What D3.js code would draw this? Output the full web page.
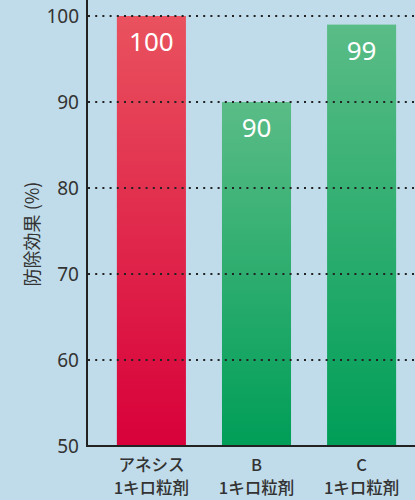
<!DOCTYPE html>
<html><head><meta charset="utf-8">
<script src="https://cdn.jsdelivr.net/npm/d3@7/dist/d3.min.js"></script>
<style>html,body{margin:0;padding:0;background:#c0dcea;}svg{display:block;}</style>
</head><body><svg id="c" width="415" height="500"></svg>
<script>
const categories = ["アネシス", "B", "C"];
const subLabels = ["1キロ粒剤", "1キロ粒剤", "1キロ粒剤"];
const values = [100, 90, 99];
const colorKeys = ["red", "green", "green"];
const yTicks = [50, 60, 70, 80, 90, 100];
const yTitle = "防除効果 (%)";

const svg = d3.select("#c");
const W = 415, H = 500;
svg.append("rect").attr("width", W).attr("height", H).attr("fill", "#c0dcea");

const defs = svg.append("defs");
const gr = defs.append("linearGradient").attr("id", "red").attr("x1", 0).attr("x2", 0).attr("y1", 0).attr("y2", 1);
gr.append("stop").attr("offset", "0%").attr("stop-color", "#e9525e");
gr.append("stop").attr("offset", "100%").attr("stop-color", "#d8003a");
const gg = defs.append("linearGradient").attr("id", "green").attr("x1", 0).attr("x2", 0).attr("y1", 0).attr("y2", 1);
gg.append("stop").attr("offset", "0%").attr("stop-color", "#5abc86");
gg.append("stop").attr("offset", "100%").attr("stop-color", "#009e58");

const y = d3.scaleLinear().domain([50, 100]).range([446, 16]);
const x = d3.scaleBand().domain(categories).range([99, 414]).paddingInner(0.343).paddingOuter(0.17);

const font = "'Noto Sans CJK JP','Noto Sans',sans-serif";

svg.selectAll("rect.bar").data(categories).join("rect")
  .attr("class", "bar")
  .attr("x", d => x(d))
  .attr("width", x.bandwidth())
  .attr("y", (d, i) => y(values[i]))
  .attr("height", (d, i) => y(50) - y(values[i]))
  .attr("fill", (d, i) => `url(#${colorKeys[i]})`);

svg.selectAll("line.grid").data(yTicks.filter(t => t > 50)).join("line")
  .attr("x1", 88).attr("x2", W)
  .attr("y1", d => y(d)).attr("y2", d => y(d))
  .attr("stroke", "#222").attr("stroke-width", 2.2)
  .attr("stroke-dasharray", "2,5.2");

svg.selectAll("text.val").data(categories).join("text")
  .attr("x", d => x(d) + x.bandwidth() / 2)
  .attr("y", (d, i) => y(values[i]) + 35)
  .attr("text-anchor", "middle")
  .attr("fill", "#fff")
  .attr("font-family", "'Noto Sans',sans-serif")
  .attr("font-size", 26)
  .text((d, i) => values[i]);

const yAxis = d3.axisLeft(y).tickValues(yTicks).tickSize(0).tickPadding(8);
const ga = svg.append("g").attr("transform", "translate(87,0)").call(yAxis);
ga.select(".domain").remove();
ga.selectAll("text").attr("font-family", "'Noto Sans',sans-serif").attr("font-size", 19).attr("fill", "#333");
svg.append("line").attr("x1", 87).attr("x2", 87).attr("y1", 0).attr("y2", 447)
  .attr("stroke", "#222").attr("stroke-width", 2);
svg.append("line").attr("x1", 86).attr("x2", W).attr("y1", 446).attr("y2", 446)
  .attr("stroke", "#222").attr("stroke-width", 2);

svg.append("text")
  .attr("transform", "translate(39,234) rotate(-90)")
  .attr("text-anchor", "middle")
  .attr("font-family", font).attr("font-size", 18).attr("fill", "#333")
  .text(yTitle);

const cl = svg.selectAll("text.cat").data(categories).join("text")
  .attr("text-anchor", "middle")
  .attr("font-family", font).attr("font-size", 16.5).attr("font-weight", 500).attr("fill", "#333");
cl.append("tspan").attr("x", d => x(d) + x.bandwidth() / 2).attr("y", 471).text(d => d);
cl.append("tspan").attr("x", d => x(d) + x.bandwidth() / 2).attr("y", 494).text((d, i) => subLabels[i]);
</script></body></html>
